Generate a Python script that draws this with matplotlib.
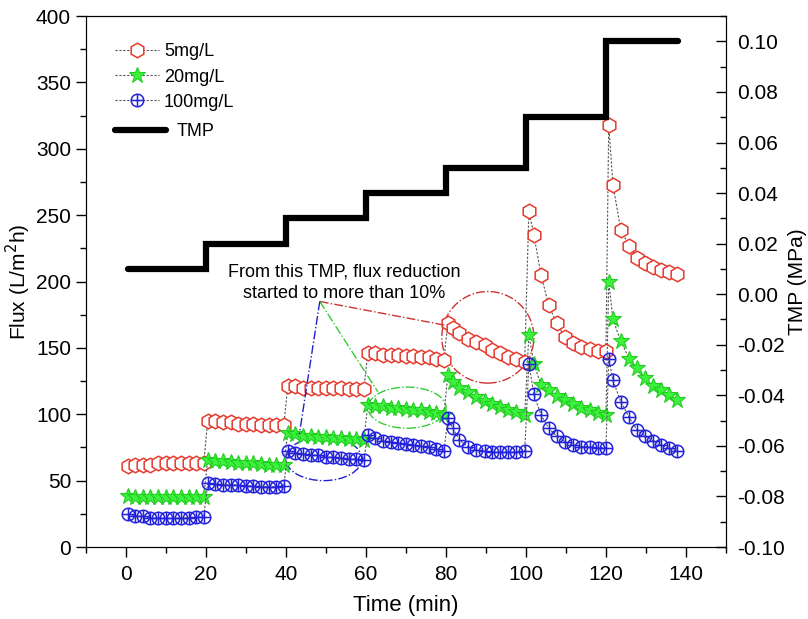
import numpy as np
import matplotlib
matplotlib.use("Agg")
import matplotlib.pyplot as plt
from matplotlib.path import Path
from matplotlib.patches import Ellipse
from matplotlib.ticker import MultipleLocator, FormatStrFormatter

plt.rcParams['font.family'] = ['Liberation Sans', 'DejaVu Sans']
plt.rcParams['axes.unicode_minus'] = False

# time of each sample (min), one list per TMP step
t_steps = [
    [0.5, 2.4, 4.3, 6.2, 8.1, 10.0, 11.9, 13.8, 15.7, 17.6, 19.5],
    [20.5, 22.4, 24.3, 26.2, 28.1, 30.0, 31.9, 33.8, 35.7, 37.6, 39.5],
    [40.5, 42.4, 44.3, 46.2, 48.1, 50.0, 51.9, 53.8, 55.7, 57.6, 59.5],
    [60.5, 62.4, 64.3, 66.2, 68.1, 70.0, 71.9, 73.8, 75.7, 77.6, 79.5],
    [80.5, 81.75, 83.4, 85.5, 87.6, 89.7, 91.5, 93.5, 95.5, 97.6, 99.7],
    [100.75, 102.0, 103.8, 105.7, 107.7, 109.8, 111.8, 113.8, 115.9, 117.9, 120.0],
    [120.7, 121.75, 123.7, 125.8, 127.8, 129.8, 131.8, 133.8, 135.8, 137.8],
]
time = [t for seg in t_steps for t in seg]

flux_5 = [
    61, 62, 62, 62, 63, 63, 63, 63, 63, 63, 63,
    95, 95, 94, 94, 93, 93, 93, 92, 92, 92, 92,
    121, 121, 120, 120, 120, 120, 120, 120, 119, 119, 119,
    146, 146, 145, 145, 145, 144, 144, 143, 143, 142, 141,
    168.5, 164.7, 161, 157, 154.6, 152, 148.4, 146, 143.4, 141.4, 139.6,
    253, 235, 205, 182, 168.5, 158, 153.6, 151, 149, 148, 148,
    318, 273, 239, 227, 218, 214, 211, 209, 207.5, 206,
]
flux_20 = [
    38.5, 38, 38, 38, 37.5, 37.5, 37.5, 37.5, 37.5, 37.5, 38,
    65.5, 65, 64.5, 64, 63.5, 63, 63, 62.5, 62, 62, 62,
    86, 85, 84, 84, 83, 83, 82, 82, 81, 81, 80.5,
    107, 106.5, 106, 105, 105, 104, 103, 103, 102, 101, 99.5,
    129.6, 124.5, 120, 116.5, 113, 110, 107.5, 105.5, 103.5, 101.5, 99.5,
    160, 138, 122, 118, 114, 111, 108, 105, 103, 101, 99.5,
    200, 171.5, 155, 142, 134.6, 127, 121, 118, 114.5, 110.7,
]
flux_100 = [
    24.6, 23.5, 23, 22, 22, 21.5, 21.5, 22, 22, 22.5, 22.5,
    48, 47.5, 47, 47, 46.5, 46, 46, 45.5, 45.5, 45.5, 46,
    72.5, 71, 70, 69.5, 69, 68, 67.5, 67, 66.5, 66, 65.5,
    84.5, 82, 80, 79, 78, 77.5, 77, 76, 75.5, 74, 72,
    97, 89.4, 80.6, 75.6, 73, 72, 71.5, 71.5, 71.5, 71.8, 72,
    138, 115, 99.4, 89.4, 83.6, 79.3, 76.8, 75.6, 75.6, 74.8, 74.8,
    142, 125.8, 109.5, 97.7, 88, 83.6, 80, 76.8, 74.3, 72.5,
]

tmp_time = [0.5, 20, 40, 60, 80, 100, 120, 138]
tmp_val = [0.01, 0.02, 0.03, 0.04, 0.05, 0.07, 0.10, 0.10]

# circle with a cross for the 100mg/L marker
circ = Path.unit_circle()
cross = Path([(-1, 0), (1, 0), (0, -1), (0, 1)],
             [Path.MOVETO, Path.LINETO, Path.MOVETO, Path.LINETO])
oplus = Path.make_compound_path(circ, cross)

fig = plt.figure(figsize=(8.08, 6.19), dpi=100)
ax = fig.add_axes([0.106, 0.1163, 0.7925, 0.8577])
ax2 = ax.twinx()

line_kw = dict(color='#555555', lw=0.8, ls=(0, (2, 1.5)))
h5, = ax.plot(time, flux_5, marker='h', ms=10.5, mfc='white', mec='#e53a2e', mew=1.1,
              label='5mg/L', **line_kw)
h20, = ax.plot(time, flux_20, marker='*', ms=12, mfc='#3cf23c', mec='#22cc22', mew=0.8,
               label='20mg/L', **line_kw)
h100, = ax.plot(time, flux_100, marker=oplus, ms=9, mfc='none', mec='#2222dd', mew=1.1,
                label='100mg/L', **line_kw)

htmp, = ax2.plot(tmp_time, tmp_val, drawstyle='steps-post', color='black', lw=4.5,
                 solid_capstyle='round', solid_joinstyle='miter', label='TMP')

# annotation ellipses and pointer lines
ax.add_patch(Ellipse((49.5, 66.5), 19, 33, fill=False, ec='#2222cc', ls='-.', lw=1))
ax.add_patch(Ellipse((70.3, 105), 19.5, 31, fill=False, ec='#33cc33', ls='-.', lw=1))
ax.add_patch(Ellipse((90.5, 158), 23, 69, fill=False, ec='#cc3333', ls='-.', lw=1))
apex = (48.5, 185)
ax.plot([apex[0], 80.0], [apex[1], 167], color='#cc3333', ls='-.', lw=1)
ax.plot([apex[0], 63.0], [apex[1], 117], color='#33cc33', ls='-.', lw=1)
ax.plot([apex[0], 43.4], [apex[1], 85], color='#2222cc', ls='-.', lw=1)
ax.text(54.5, 199, 'From this TMP, flux reduction\nstarted to more than 10%',
        ha='center', va='center', fontsize=13, linespacing=1.3)

ax.set_xlim(-10, 150)
ax.set_ylim(0, 400)
ax2.set_ylim(-0.1, 0.11)

ax.xaxis.set_major_locator(MultipleLocator(20))
ax.xaxis.set_minor_locator(MultipleLocator(10))
ax.yaxis.set_major_locator(MultipleLocator(50))
ax.yaxis.set_minor_locator(MultipleLocator(25))
ax2.yaxis.set_major_locator(MultipleLocator(0.02))
ax2.yaxis.set_minor_locator(MultipleLocator(0.01))
ax2.yaxis.set_major_formatter(FormatStrFormatter('%.2f'))
ax2.set_yticks([v / 100 for v in range(-10, 11, 2)])

ax.tick_params(axis='both', which='major', direction='out', length=7, width=1,
               labelsize=15, top=False, right=False)
ax.tick_params(axis='x', which='major', pad=6)
ax.tick_params(axis='both', which='minor', direction='out', length=4, width=1,
               top=False, right=False)
ax2.tick_params(axis='y', which='major', direction='in', length=7, width=1,
                labelsize=15, pad=8)
ax2.tick_params(axis='y', which='minor', direction='in', length=4, width=1)

ax.set_xlabel('Time (min)', fontsize=16, labelpad=8)
ax.set_ylabel('Flux (L/m$^2$h)', fontsize=15, labelpad=2)
ax2.set_ylabel('TMP (MPa)', fontsize=15, labelpad=2)

leg1 = ax2.legend(handles=[h5, h20, h100], loc='upper left', bbox_to_anchor=(0.035, 0.962),
                  frameon=False, fontsize=13, handlelength=2.4, labelspacing=0.45,
                  handletextpad=0.3, borderaxespad=0)
ax2.add_artist(leg1)
ax2.legend(handles=[htmp], loc='upper left', bbox_to_anchor=(0.035, 0.812),
           frameon=False, fontsize=13, handlelength=2.8, handletextpad=0.6, borderaxespad=0)

fig.savefig('out.png', dpi=100)
